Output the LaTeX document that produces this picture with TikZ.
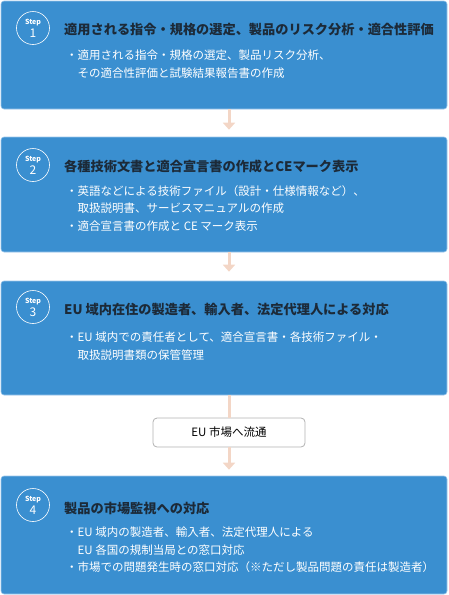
\documentclass[tikz,border=0pt]{standalone}
\usepackage{fontspec}
\setmainfont{Noto Sans CJK JP}
\usetikzlibrary{arrows.meta}
\definecolor{stepblue}{HTML}{3A8FD0}
\definecolor{steprim}{HTML}{9CC6EA}
\definecolor{titleink}{HTML}{1C2A38}
\definecolor{flowpeach}{HTML}{F3D6C6}
\tikzset{
  stepbox/.style={fill=stepblue, draw=steprim, line width=0.6pt, rounded corners=3pt,
    minimum width=446pt, inner sep=0pt},
  stepmark/.style={circle, draw=white, line width=0.6pt, minimum size=33pt, inner sep=0pt,
    text=white, align=center},
  steptitle/.style={anchor=west, inner sep=0pt, text=titleink,
    font=\fontsize{13.2}{16}\selectfont\bfseries},
  stepbody/.style={anchor=north west, inner sep=0pt, text=white, align=left,
    font=\fontsize{11.5}{17.5}\selectfont},
  marketbox/.style={draw=black!30, line width=0.8pt, fill=white, rounded corners=4pt,
    minimum width=152pt, minimum height=29pt, inner sep=0pt,
    font=\fontsize{11.5}{14}\selectfont},
  flowline/.style={flowpeach, line width=3pt},
  flow/.style={flowline, -{Triangle[width=12pt,length=7pt]}}
}
\begin{document}
\begin{tikzpicture}[x=1pt, y=-1pt]
        \useasboundingbox (0,0) rectangle (449,595);

        % step 1
        \node[stepbox, minimum height=108pt] (box1) at (224,55) {};
        \node[stepmark] (mark1) at (33,28) {{\fontsize{7}{7}\selectfont\bfseries Step}\\[1pt]{\fontsize{12}{12}\selectfont 1}};
        \node[steptitle] (title1) at (64,30) {適用される指令・規格の選定、製品のリスク分析・適合性評価};
        \node[stepbody] (body1) at (66,50) {・適用される指令・規格の選定、製品リスク分析、\\\hspace{1em}その適合性評価と試験結果報告書の作成};

        % step 2
        \node[stepbox, minimum height=115pt] (box2) at (224,194.5) {};
        \node[stepmark] (mark2) at (33,165) {{\fontsize{7}{7}\selectfont\bfseries Step}\\[1pt]{\fontsize{12}{12}\selectfont 2}};
        \node[steptitle] (title2) at (64,166) {各種技術文書と適合宣言書の作成とCEマーク表示};
        \node[stepbody] (body2) at (66,185) {・英語などによる技術ファイル（設計・仕様情報など）、\\\hspace{1em}取扱説明書、サービスマニュアルの作成\\・適合宣言書の作成と CE マーク表示};

        % step 3
        \node[stepbox, minimum height=114pt] (box3) at (224,338) {};
        \node[stepmark] (mark3) at (33,307) {{\fontsize{7}{7}\selectfont\bfseries Step}\\[1pt]{\fontsize{12}{12}\selectfont 3}};
        \node[steptitle] (title3) at (64,310) {EU 域内在住の製造者、輸入者、法定代理人による対応};
        \node[stepbody] (body3) at (66,332) {・EU 域内での責任者として、適合宣言書・各技術ファイル・\\\hspace{1em}取扱説明書類の保管管理};

        % market
        \node[marketbox] (market) at (229,432.5) {EU 市場へ流通};

        % step 4
        \node[stepbox, minimum height=118pt] (box4) at (224,535) {};
        \node[stepmark] (mark4) at (33,505) {{\fontsize{7}{7}\selectfont\bfseries Step}\\[1pt]{\fontsize{12}{12}\selectfont 4}};
        \node[steptitle] (title4) at (64,508) {製品の市場監視への対応};
        \node[stepbody] (body4) at (66,527) {・EU 域内の製造者、輸入者、法定代理人による\\\hspace{1em}EU 各国の規制当局との窓口対応\\・市場での問題発生時の窓口対応（※ただし製品問題の責任は製造者）};

        % flow
        \draw[flow, shorten >=7pt] (box1.south -| market) -- (box2.north -| market);
        \draw[flow, shorten >=9pt] (box2.south -| market) -- (box3.north -| market);
        \draw[flowline] (box3.south -| market) -- (market.north);
        \draw[flow, shorten >=6pt] (market.south) -- (box4.north -| market);
\end{tikzpicture}
\end{document}
